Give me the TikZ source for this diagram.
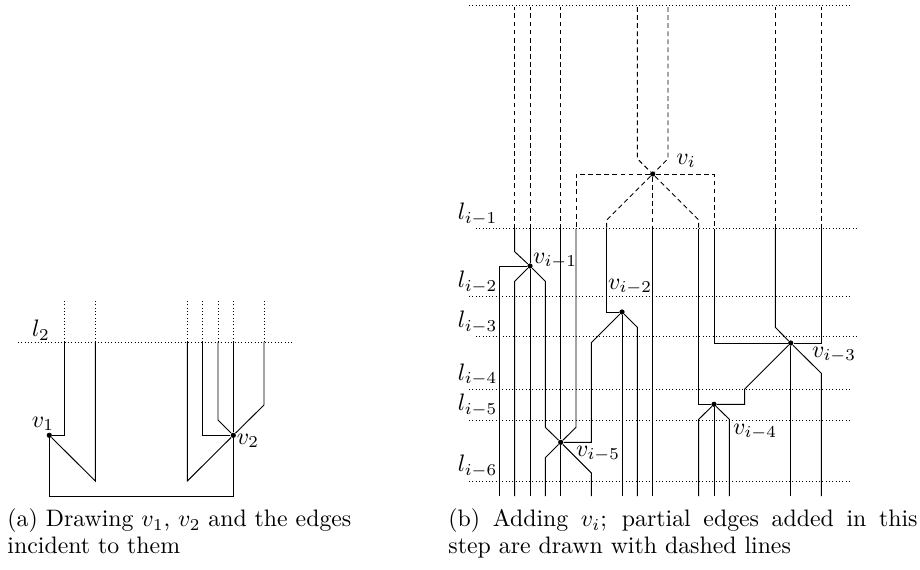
\documentclass[tikz,border=0pt]{standalone}
\usepackage{amsmath,tikz}
\tikzstyle{vtx}=[circle,fill=black,inner sep=0pt,minimum size=2.2pt]
\tikzstyle{lvl}=[densely dotted]
\tikzstyle{part}=[dash pattern=on 2pt off 1.4pt]
\tikzstyle{lab}=[inner sep=0pt]
\tikzstyle{capt}=[anchor=base west,inner sep=0pt]

\begin{document}
\begin{tikzpicture}[x=0.42pt,y=-0.42pt,line width=0.4pt]
\useasboundingbox (0,0) rectangle (920,569);

\draw[lvl] (18,342) -- (292,342);
\node[lab] (l2) at (41,330) {$l_2$};
\node[vtx] (v1) at (49.3,435.3) {};
\node[vtx] (v2) at (233.3,435.3) {};
\node[lab] (v1l) at (43,424) {$v_1$};
\node[lab] (v2l) at (248,441) {$v_2$};
\coordinate (a1) at (64.6,342);
\coordinate (a2) at (95.3,342);
\coordinate (a3) at (187.3,342);
\coordinate (a4) at (202.6,342);
\coordinate (a5) at (218,342);
\coordinate (a6) at (233.3,342);
\coordinate (a7) at (264,342);
\foreach \t in {a1,a2,a3,a4,a5,a6,a7} \draw[lvl] (\t) -- ++(0,-42);
\draw (a1) -- (a1 |- v1) -- (v1);
\draw (a2) -- ++(0,139) -- (v1);
\draw (v1) -- ++(0,61.4) -| (v2);
\draw (a3) -- ++(0,139) -- (v2);
\draw (a4) -- (a4 |- v2) -- (v2);
\draw (a5) -- ++(0,78) -- (v2);
\draw (a6) -- (v2);
\draw (a7) -- ++(0,63) -- (v2);

\draw[lvl] (469,5) -- (850,5);
\foreach \y/\x/\n in {228.7/476/1,296.7/469/2,336.7/476/3,389.3/469/4,420/469/5,481/469/6}{
  \draw[lvl] (\x,\y) -- ++(381,0);
  \node[lab,anchor=south] (l\n) at (477.5,\y-3) {$l_{i-\n}$};
}
\node[vtx] (vi) at (652.7,174) {};
\node[vtx] (u1) at (530,266) {};
\node[vtx] (u2) at (622,312) {};
\node[vtx] (u3) at (790.7,343) {};
\node[vtx] (u4) at (714,404.3) {};
\node[vtx] (u5) at (560.7,442.3) {};
\node[lab] (vil) at (686,161) {$v_i$};
\node[lab] (u1l) at (555,261) {$v_{i-1}$};
\node[lab] (u2l) at (630,287) {$v_{i-2}$};
\node[lab] (u3l) at (834,355) {$v_{i-3}$};
\node[lab] (u4l) at (755,432) {$v_{i-4}$};
\node[lab] (u5l) at (598,454) {$v_{i-5}$};

\coordinate (s9) at (637.3,7);
\coordinate (s11) at (668,7);
\coordinate (t1) at (514.7,228.7);
\coordinate (t2) at (530,228.7);
\coordinate (t4) at (560.7,228.7);
\coordinate (t5) at (576,228.7);
\coordinate (t7) at (606.7,228.7);
\coordinate (t10) at (652.7,228.7);
\coordinate (t13) at (698.7,228.7);
\coordinate (t14) at (714,228.7);
\coordinate (t18) at (775.3,228.7);
\coordinate (t21) at (821.3,228.7);
\coordinate (b0) at (499.3,496);
\coordinate (b1) at (514.7,496);
\coordinate (b2) at (530,496);
\coordinate (b3) at (545.3,496);
\coordinate (b4) at (560.7,496);
\coordinate (b6) at (591.3,496);
\coordinate (b8) at (622,496);
\coordinate (b9) at (637.3,496);
\coordinate (b10) at (652.7,496);
\coordinate (b13) at (698.7,496);
\coordinate (b14) at (714,496);
\coordinate (b15) at (729.3,496);
\coordinate (b19) at (790.7,496);
\coordinate (b21) at (821.3,496);

\foreach \t in {t1,t2,t4,t18,t21} \draw[part] (\t) -- ++(0,-221.7);
\draw[part] (s9) -- ++(0,151.7) -- (vi);
\draw[part] (s11) -- ++(0,151.7) -- (vi);
\draw[part] (vi) -| (t5);
\draw[part] (vi) -| (t14);
\draw[part] (vi) -- (t10);
\draw[part] (vi) -- ++(-46,46) -- (t7);
\draw[part] (vi) -- ++(46,46) -- (t13);

\draw (t1) -- ++(0,23) -- (u1);
\draw (t2) -- (u1) -- (b2);
\draw (u1) -| (b0);
\draw (u1) -- ++(-15.3,15.3) -- (b1);
\draw (u1) -- ++(15.3,15.3) -- ++(0,146) -- (u5);
\draw (t4) -- (u5) -- (b4);
\draw (t5) -- ++(0,198.6) -- (u5);
\draw (u5) -- ++(-15.3,15.3) -- (b3);
\draw (u5) -- ++(30.6,30.6) -- (b6);
\draw (u5) -- ++(30.6,0) -- ++(0,-99.6) -- (u2);
\draw (t7) -- (t7 |- u2) -- (u2);
\draw (u2) -- (b8);
\draw (u2) -- ++(15.3,15.3) -- (b9);
\draw (t10) -- (b10);
\draw (t13) -- (t13 |- u4) -- (u4);
\draw (u4) -- ++(30.7,0) -- ++(0,-15.3) -- (u3);
\draw (u4) -- (b14);
\draw (u4) -- ++(-15.3,15) -- (b13);
\draw (u4) -- ++(15.3,15) -- (b15);
\draw (t14) -- (t14 |- u3) -- (u3);
\draw (t18) -- ++(0,98.6) -- (u3);
\draw (t21) -- (t21 |- u3) -- (u3);
\draw (u3) -- (b19);
\draw (u3) -- ++(30.6,30.3) -- (b21);

\node[capt] (capa1) at (7,526.7) {(a) Drawing $v_1$, $v_2$ and the edges};
\node[capt] (capa2) at (7,553.3) {incident to them};
\node[capt] (capb1) at (448,526.7) {\makebox[197pt][s]{(b) Adding $v_i$; partial edges added in this}};
\node[capt] (capb2) at (448,553.3) {step are drawn with dashed lines};
\end{tikzpicture}
\end{document}
